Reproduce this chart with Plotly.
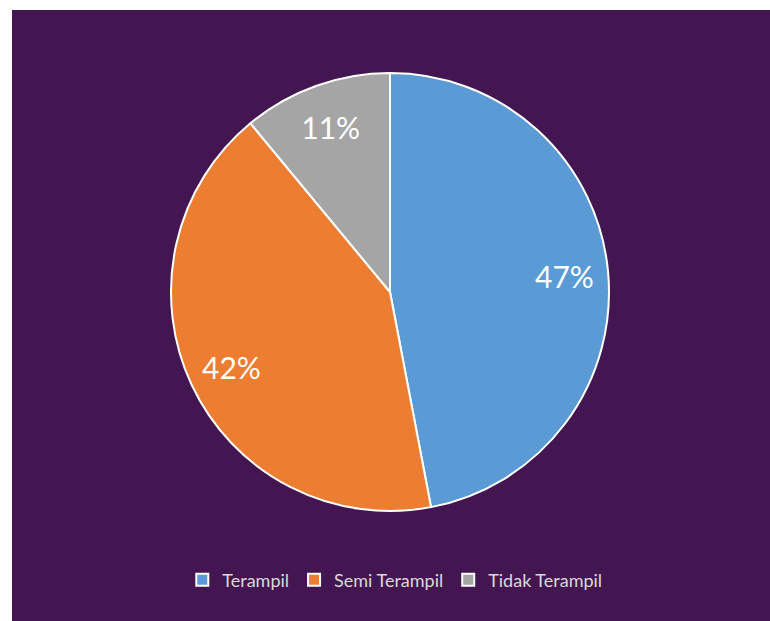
import plotly.graph_objects as go

labels = ["Terampil", "Semi Terampil", "Tidak Terampil"]
values = [47, 42, 11]
colors = ["#5B9BD5", "#ED7D31", "#A5A5A5"]

W, H = 770, 621
L, T = 12, 10
pw, ph = W - L, H - T

def fx(px):
    return (px - L) / pw

def fy(py):
    return 1 - (py - T) / ph

dom = dict(x=[fx(171), fx(609)], y=[fy(511), fy(73)])

fig = go.Figure()
fig.add_trace(go.Pie(
    labels=labels,
    values=values,
    sort=False,
    direction="clockwise",
    rotation=0,
    marker=dict(colors=colors, line=dict(color="#FFFFFF", width=2)),
    textinfo="none",
    domain=dom,
    hoverinfo="label+percent",
))
# transparent ring overlay used only to place the percentage labels further out
fig.add_trace(go.Pie(
    labels=labels,
    values=values,
    sort=False,
    direction="clockwise",
    rotation=0,
    hole=0.6,
    marker=dict(colors=["rgba(0,0,0,0)"] * 3, line=dict(width=0)),
    texttemplate="%{percent:.0%}",
    textposition="inside",
    insidetextorientation="horizontal",
    textfont=dict(family="Lato", size=30, color="#FFFFFF"),
    domain=dom,
    showlegend=False,
    hoverinfo="skip",
))

fig.update_layout(
    width=W, height=H,
    margin=dict(l=L, t=T, r=0, b=0),
    paper_bgcolor="#FFFFFF",
    plot_bgcolor="#441651",
    shapes=[dict(type="rect", xref="paper", yref="paper", x0=0, x1=1, y0=0, y1=1,
                 fillcolor="#441651", line=dict(width=0), layer="below")],
    showlegend=True,
    legend=dict(orientation="h", x=0.505, xanchor="center", y=fy(580), yanchor="middle",
                font=dict(family="Lato", size=18, color="#D9D9D9"),
                bgcolor="rgba(0,0,0,0)", itemwidth=30, traceorder="normal"),
)

fig.write_html("out.html")
